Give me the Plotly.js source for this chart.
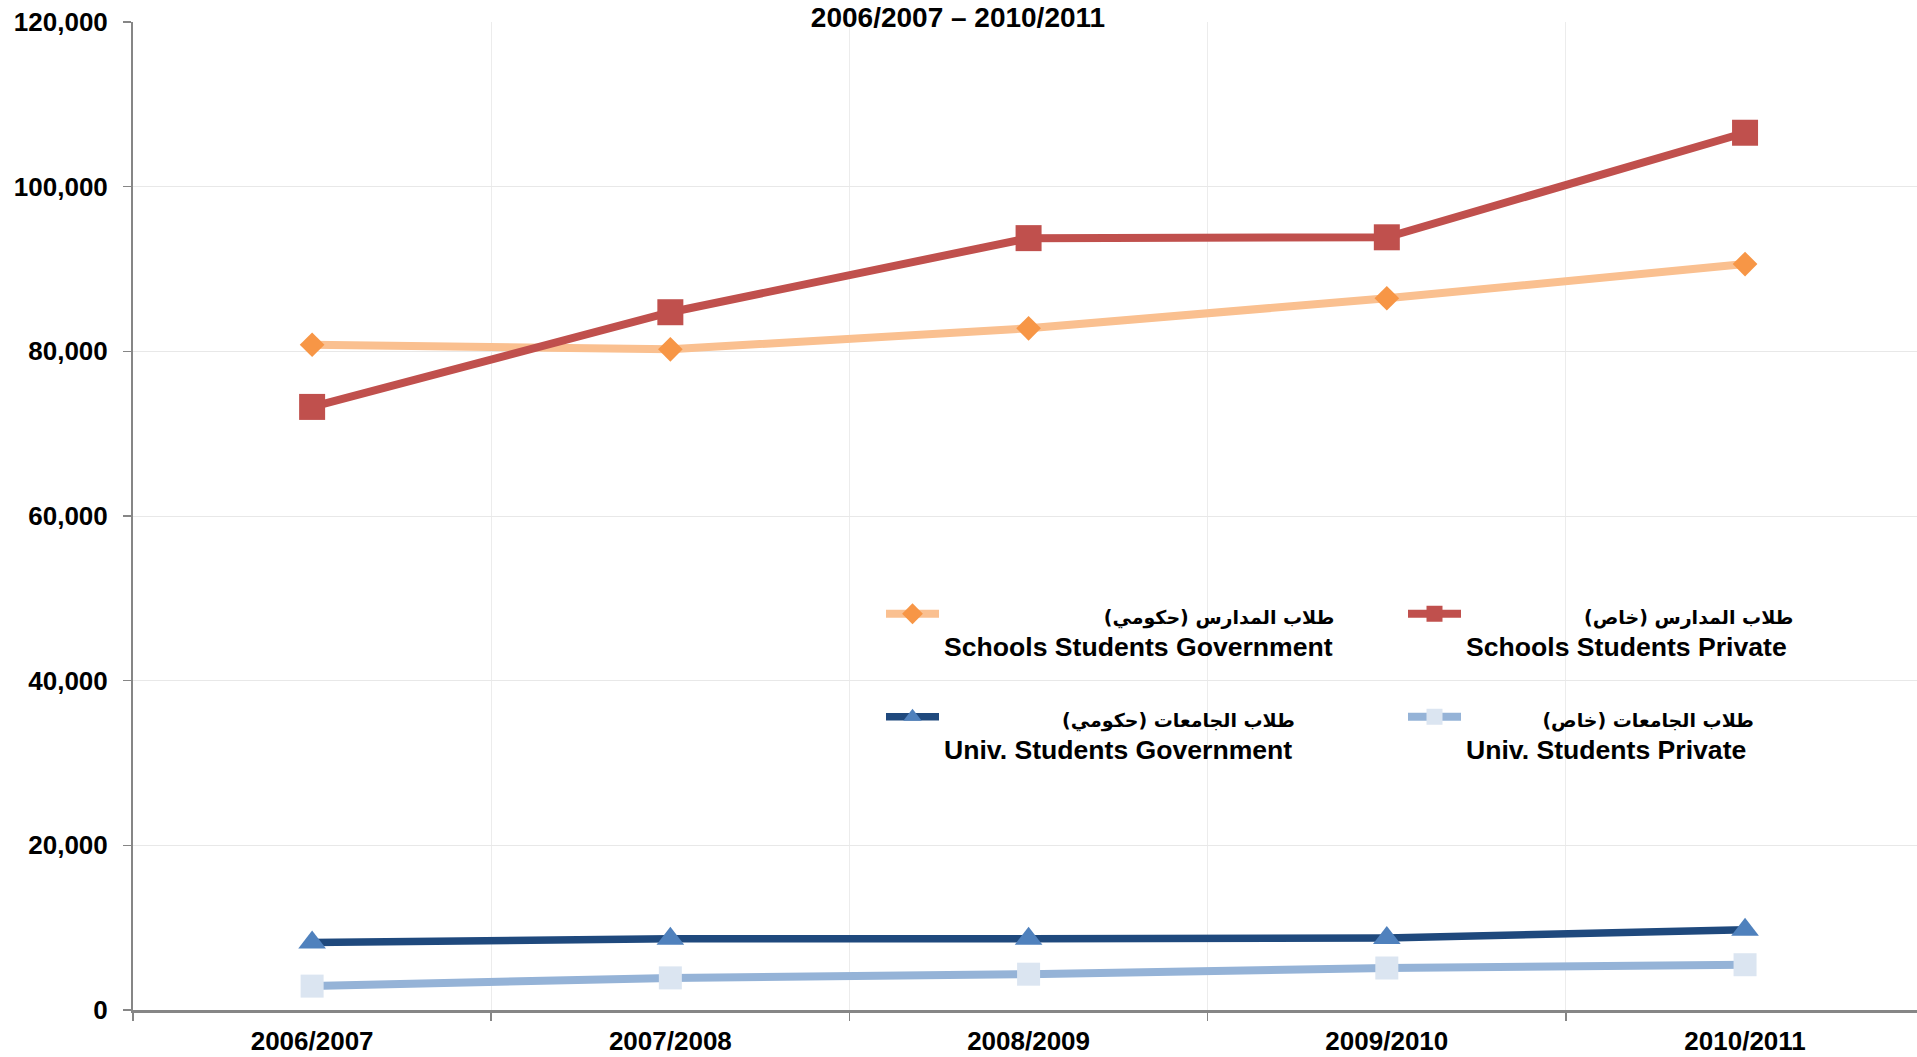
<!DOCTYPE html>
<html>
<head>
<meta charset="utf-8">
<script src="https://cdn.plot.ly/plotly-3.0.1.min.js"></script>
<style>
html,body{margin:0;padding:0;background:#ffffff;}
#chart{width:1917px;height:1057px;}
</style>
</head>
<body>
<div id="chart"></div>
<script>
// ---- data ----
const years = ['2006/2007', '2007/2008', '2008/2009', '2009/2010', '2010/2011'];
const schoolsGov = [80800, 80250, 82800, 86450, 90600];
const schoolsPrivate = [73250, 84750, 93750, 93850, 106550];
const univGov = [8200, 8650, 8650, 8750, 9750];
const univPrivate = [2900, 3900, 4350, 5100, 5500];
const namesEn = ['Schools Students Government', 'Schools Students Private', 'Univ. Students Government', 'Univ. Students Private'];
const namesAr = ['طلاب المدارس (حكومي)', 'طلاب المدارس (خاص)', 'طلاب الجامعات (حكومي)', 'طلاب الجامعات (خاص)'];
const yTicks = [0, 20000, 40000, 60000, 80000, 100000, 120000];
const titleText = '2006/2007 – 2010/2011';

// ---- layout helpers (pixels -> paper) ----
const W = 1917, H = 1057;
const M = {l: 133, r: 0, t: 22, b: 47};
const PW = W - M.l - M.r, PH = H - M.t - M.b;
const px = x => (x - M.l) / PW;
const py = y => (H - M.b - y) / PH;

const FONT = '"Liberation Sans", Arial, Helvetica, sans-serif';
const AFONT_CSS = "'DejaVu Sans',sans-serif";
const BASE = 25, EN_SIZE = 26.6, AR_SIZE = 19;

// legend label: Arabic line right-aligned (padded with no-break spaces), English line below
const ctx = document.createElement('canvas').getContext('2d');
function textWidth(font, s) { ctx.font = font; return ctx.measureText(s).width; }
const textStart = [944, 1466, 944, 1466];
const arRight = [1333, 1796, 1296, 1756];
function legendLabel(i) {
  const wAr = textWidth('bold ' + AR_SIZE + 'px ' + AFONT_CSS, namesAr[i]);
  const wSp = textWidth('bold ' + BASE + 'px ' + FONT, '\u00a0');
  const n = Math.max(0, Math.round((arRight[i] - textStart[i] - wAr) / wSp));
  return '\u00a0'.repeat(n) +
    '<span style="font-family:' + AFONT_CSS + ';font-size:' + AR_SIZE + 'px">' + namesAr[i] + '</span>' +
    '<br><span style="font-size:' + EN_SIZE + 'px">' + namesEn[i] + '</span>';
}

function tr(y, i, lineColor, lineWidth, symbol, mColor, mSize, legend, group) {
  return {
    type: 'scatter', mode: 'lines+markers', x: years, y: y,
    name: legendLabel(i),
    legend: legend, legendgroup: group,
    line: {color: lineColor, width: lineWidth},
    marker: {symbol: symbol, color: mColor, size: mSize, line: {width: 0}},
    hoverinfo: 'skip'
  };
}

const data = [
  tr(schoolsGov, 0, '#FAC090', 8, 'diamond', '#F79646', 19, 'legend', 'a'),
  tr(schoolsPrivate, 1, '#C0504D', 8, 'square', '#C0504D', 26, 'legend2', 'b'),
  tr(univGov, 2, '#1F497D', 7.5, 'triangle-up', '#4F81BD', 24, 'legend', 'c'),
  tr(univPrivate, 3, '#95B3D7', 8, 'square', '#DBE5F1', 23, 'legend2', 'd')
];

const legFont = {family: FONT, size: BASE, color: '#000', weight: 'bold'};
const legCommon = {
  orientation: 'v', xanchor: 'left', yanchor: 'top',
  bgcolor: 'rgba(0,0,0,0)', borderwidth: 0, font: legFont,
  itemwidth: 53, valign: 'top', tracegroupgap: 35, itemclick: false, itemdoubleclick: false
};

const layout = {
  width: W, height: H,
  margin: M,
  paper_bgcolor: '#ffffff', plot_bgcolor: '#ffffff',
  showlegend: true,
  title: {
    text: titleText, xref: 'paper', x: px(958), xanchor: 'center',
    yref: 'container', y: 1 - 27 / H, yanchor: 'bottom',
    font: {family: FONT, size: 28, color: '#000', weight: 'bold'}
  },
  xaxis: {
    type: 'category', range: [-0.5, 4.48], tickson: 'boundaries',
    ticks: 'outside', ticklen: 8, tickwidth: 1.5, tickcolor: '#868686',
    showline: true, linecolor: '#868686', linewidth: 3,
    showgrid: true, gridcolor: '#ececec', gridwidth: 1, zeroline: false,
    tickfont: {family: FONT, size: 26, color: '#000', weight: 'bold'},
    ticklabelstandoff: 6, fixedrange: true
  },
  yaxis: {
    range: [0, 120000], tickvals: yTicks, tickformat: ',d',
    ticks: 'outside', ticklen: 8, tickwidth: 1.5, tickcolor: '#868686',
    showline: true, linecolor: '#868686', linewidth: 2,
    showgrid: true, gridcolor: '#e8e8e8', gridwidth: 1, zeroline: false,
    tickfont: {family: FONT, size: 26, color: '#000', weight: 'bold'},
    ticklabelstandoff: 10, fixedrange: true
  },
  legend: Object.assign({x: px(881), y: py(591)}, legCommon),
  legend2: Object.assign({x: px(1403), y: py(591)}, legCommon)
};

Plotly.newPlot('chart', data, layout, {displayModeBar: false, staticPlot: true});
</script>
</body>
</html>
